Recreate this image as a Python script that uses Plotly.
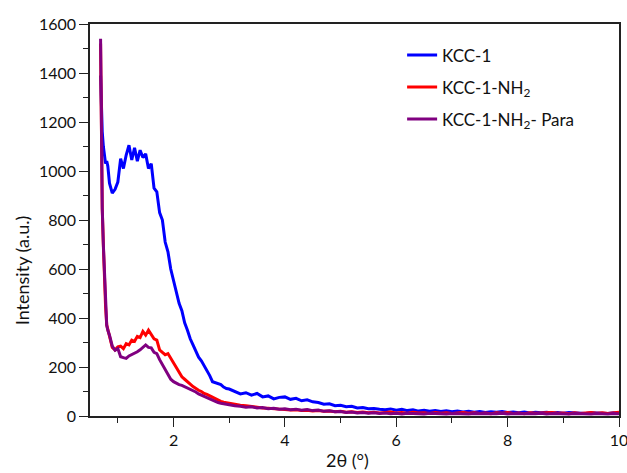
import numpy as np
import plotly.graph_objects as go

# x grid (2θ, degrees)
x_early = [0.69, 0.70, 0.71, 0.72, 0.74, 0.76, 0.78, 0.80, 0.82, 0.85]
x_mid = [round(v, 2) for v in np.arange(0.90, 3.001, 0.05)]
x_tail = [round(v, 1) for v in np.arange(3.1, 10.001, 0.1)]
two_theta = x_early + x_mid + x_tail

kcc1 = [
    1390, 1300, 1200, 1160, 1100, 1060, 1030, 1040, 1020, 950,
    910, 925, 955, 1050, 1010, 1065, 1105, 1045, 1095, 1040,
    1085, 1055, 1070, 1010, 1030, 930, 915, 830, 800, 710,
    670, 600, 550, 500, 460, 430, 380, 350, 315, 290,
    265, 240, 225, 205, 190, 165, 140, 135, 130, 128,
    118, 112, 110,
    100, 90, 95, 85, 92, 78, 82, 70, 76, 78,
    68, 72, 62, 66, 58, 55, 48, 50, 42, 44,
    38, 40, 33, 35, 30, 31, 28, 26, 29, 24,
    27, 22, 25, 20, 23, 19, 22, 18, 21, 17,
    20, 16, 19, 15, 18, 14, 17, 15, 18, 14,
    16, 13, 16, 12, 15, 13, 15, 12, 14, 11,
    14, 12, 13, 10, 13, 11, 12, 10, 13, 11,
]

kcc1_nh2 = [
    1520, 1290, 990, 845, 695, 555, 445, 372, 352, 330,
    280, 270, 282, 285, 275, 295, 290, 310, 305, 325,
    320, 345, 330, 350, 335, 315, 310, 270, 260, 250,
    255, 235, 215, 195, 175, 160, 150, 138, 130, 120,
    112, 105, 100, 92, 88, 82, 78, 70, 66, 60,
    56, 54, 50,
    48, 44, 42, 38, 36, 33, 32, 29, 28, 26,
    24, 25, 22, 23, 20, 22, 19, 20, 17, 19,
    15, 17, 14, 16, 13, 15, 12, 14, 16, 12,
    14, 11, 15, 12, 13, 10, 14, 11, 13, 10,
    12, 14, 11, 13, 10, 12, 9, 13, 11, 14,
    10, 12, 9, 13, 11, 12, 10, 14, 11, 12,
    9, 13, 10, 12, 14, 11, 13, 10, 12, 15,
]

kcc1_nh2_para = [
    1540, 1300, 1000, 850, 700, 560, 450, 370, 350, 330,
    285, 268, 275, 242, 238, 235, 245, 250, 258, 262,
    270, 282, 290, 280, 278, 260, 255, 230, 210, 185,
    165, 150, 140, 133, 128, 125, 120, 115, 110, 102,
    98, 90, 85, 78, 72, 68, 64, 60, 55, 52,
    50, 46, 45,
    42, 40, 36, 38, 33, 35, 30, 32, 28, 30,
    26, 28, 24, 26, 22, 24, 19, 21, 17, 18,
    14, 16, 12, 14, 11, 13, 10, 12, 9, 11,
    8, 11, 9, 10, 8, 11, 9, 10, 8, 10,
    9, 11, 8, 10, 9, 8, 10, 9, 11, 8,
    10, 9, 8, 10, 9, 11, 8, 10, 9, 10,
    8, 10, 9, 11, 8, 10, 9, 8, 10, 9,
]

series_names = ["KCC-1", "KCC-1-NH<sub>2</sub>", "KCC-1-NH<sub>2</sub>- Para"]
series_colors = ["#0000FF", "#FF0000", "#800080"]
series_values = [kcc1, kcc1_nh2, kcc1_nh2_para]

FONT = "Lato"
TXT = "#111111"

fig = go.Figure()
for i, (name, color, vals) in enumerate(zip(series_names, series_colors, series_values)):
    fig.add_trace(go.Scatter(
        x=two_theta, y=vals, mode="lines", name=name, legendgroup=f"g{i}",
        line=dict(color=color, width=3),
    ))

axis_common = dict(
    showline=True, linecolor="#222222", linewidth=1.5, mirror=True,
    ticks="outside", ticklen=9, tickwidth=1.3, tickcolor="#222222",
    showgrid=False, zeroline=False, automargin=False,
    ticklabeloverflow="allow",
    tickfont=dict(family=FONT, size=16, color=TXT),
)

fig.update_xaxes(
    range=[0.5, 10], tickvals=[2, 4, 6, 8, 10],
    minor=dict(ticks="outside", ticklen=5, tickwidth=1.2, tickcolor="#222222",
               tickvals=[1, 3, 5, 7, 9]),
    **axis_common,
)
fig.update_yaxes(
    range=[0, 1600], tickvals=list(range(0, 1601, 200)),
    minor=dict(ticks="outside", ticklen=5, tickwidth=1.2, tickcolor="#222222",
               tickvals=list(range(100, 1600, 200))),
    **axis_common,
)

fig.add_annotation(
    text="Intensity (a.u.)", textangle=-90, xref="paper", yref="paper",
    x=-0.1285, y=0.372, xanchor="center", yanchor="middle", showarrow=False,
    font=dict(family=FONT, size=18, color=TXT),
)
fig.add_annotation(
    text="2θ (°)", xref="paper", yref="paper",
    x=0.486, y=-0.112, xanchor="center", yanchor="middle", showarrow=False,
    font=dict(family=FONT, size=18, color=TXT),
)

fig.update_layout(
    width=627, height=473,
    margin=dict(l=90, r=8, t=24, b=57, autoexpand=False),
    paper_bgcolor="white", plot_bgcolor="white",
    showlegend=True,
    legend=dict(
        x=0.590, y=0.966, xanchor="left", yanchor="top",
        font=dict(family=FONT, size=17, color=TXT),
        bgcolor="rgba(0,0,0,0)", traceorder="grouped", tracegroupgap=7,
    ),
)

fig.write_html("out.html")
